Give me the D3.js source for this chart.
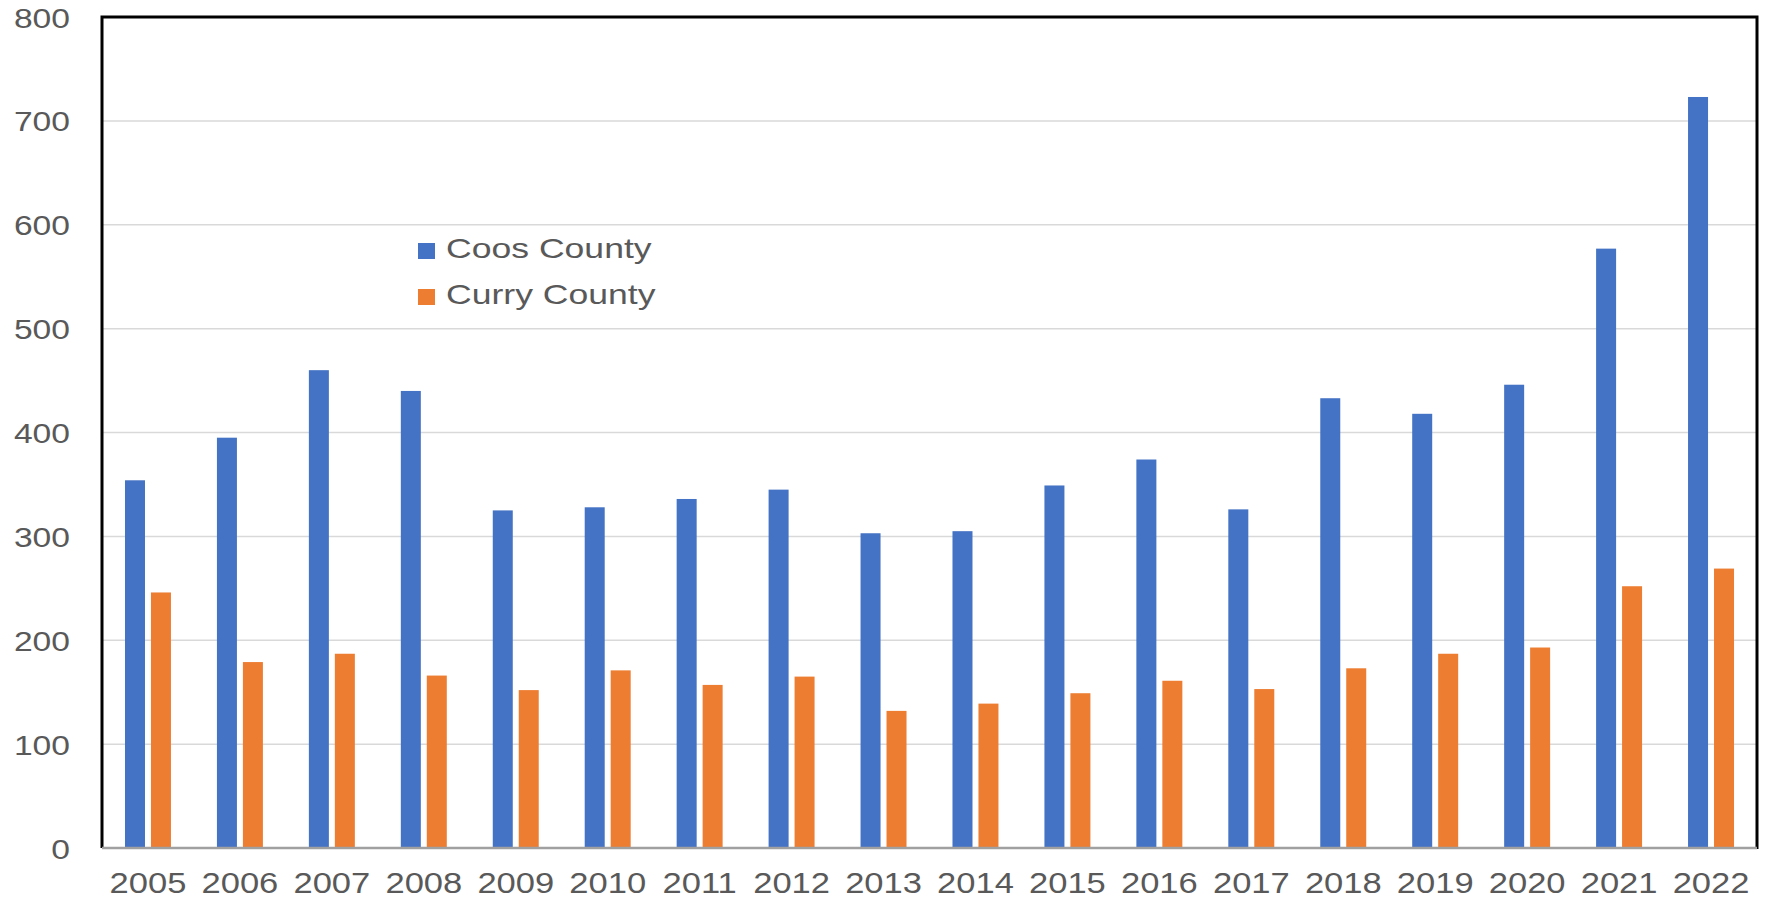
<!DOCTYPE html>
<html>
<head>
<meta charset="utf-8">
<title>Coos and Curry County</title>
<script src="https://cdn.jsdelivr.net/npm/d3@7"></script>
<style>
  html, body { margin: 0; padding: 0; background: #fff; }
  svg text { font-family: "Liberation Sans", Arial, sans-serif; fill: #595959; }
</style>
</head>
<body>
<div id="chart"></div>
<script>
// values
var years = ["2005","2006","2007","2008","2009","2010","2011","2012","2013",
             "2014","2015","2016","2017","2018","2019","2020","2021","2022"];
var coos  = [354, 395, 460, 440, 325, 328, 336, 345, 303, 305, 349, 374, 326, 433, 418, 446, 577, 723];
var curry = [246, 179, 187, 166, 152, 171, 157, 165, 132, 139, 149, 161, 153, 173, 187, 193, 252, 269];
var seriesNames = ["Coos County", "Curry County"];
var yTicks = [0, 100, 200, 300, 400, 500, 600, 700, 800];

(function drawChart(){
  var width = 1767, height = 899;
  var margin = {top: 17, right: 10, bottom: 51, left: 102};
  var colors = ["#4472C4", "#ED7D31"];

  var svg = d3.select("#chart").append("svg")
    .attr("width", width)
    .attr("height", height);

  var x = d3.scaleBand()
    .domain(years)
    .range([margin.left, width - margin.right])
    .paddingInner(0).paddingOuter(0);

  // two bars per year, small gap between them
  var xInner = d3.scaleBand()
    .domain([0, 1])
    .range([0, x.bandwidth()])
    .paddingInner(0.23).paddingOuter(0.885);

  var y = d3.scaleLinear()
    .domain([0, 800])
    .range([height - margin.bottom, margin.top]);

  // stretch text horizontally like the source image
  function stretch(sel, k){
    sel.each(function(){
      var w = this.getComputedTextLength();
      d3.select(this).attr("textLength", w * k).attr("lengthAdjust", "spacingAndGlyphs");
    });
  }

  // gridlines
  svg.append("g")
    .selectAll("line")
    .data(yTicks.slice(1))
    .join("line")
    .attr("x1", margin.left).attr("x2", width - margin.right)
    .attr("y1", d => y(d)).attr("y2", d => y(d))
    .attr("stroke", "#d9d9d9").attr("stroke-width", 1.5);

  // bars
  var data = years.map((yr, i) => ({year: yr, vals: [coos[i], curry[i]]}));
  var groups = svg.append("g").selectAll("g")
    .data(data)
    .join("g")
    .attr("transform", d => "translate(" + x(d.year) + ",0)");
  groups.selectAll("rect")
    .data(d => d.vals.map((v, k) => ({k: k, v: v})))
    .join("rect")
    .attr("x", d => xInner(d.k))
    .attr("width", xInner.bandwidth())
    .attr("y", d => y(d.v))
    .attr("height", d => y(0) - y(d.v))
    .attr("fill", d => colors[d.k]);

  // frame: black left/top/right, gray bottom axis
  var x0 = margin.left, x1 = width - margin.right, y0 = margin.top, y1 = y(0);
  svg.append("path")
    .attr("d", "M" + x0 + "," + y1 + "V" + y0 + "H" + x1 + "V" + (y1 + 1))
    .attr("fill", "none").attr("stroke", "#000").attr("stroke-width", 3);
  svg.append("line")
    .attr("x1", x0).attr("x2", x1).attr("y1", y1).attr("y2", y1)
    .attr("stroke", "#a0a0a0").attr("stroke-width", 2.5);

  // y axis labels
  var yAxis = svg.append("g")
    .attr("transform", "translate(" + (margin.left - 32) + ",0)")
    .call(d3.axisLeft(y).tickValues(yTicks).tickSize(0).tickPadding(0));
  yAxis.select(".domain").remove();
  yAxis.selectAll("text")
    .attr("font-size", 28).attr("font-family", null).attr("fill", "#595959")
    .attr("dy", "0.36em")
    .call(stretch, 1.2);

  // x axis labels
  var xAxis = svg.append("g")
    .attr("transform", "translate(0," + y1 + ")")
    .call(d3.axisBottom(x).tickSize(0).tickPadding(0));
  xAxis.select(".domain").remove();
  xAxis.selectAll("text")
    .attr("font-size", 29).attr("font-family", null).attr("fill", "#595959")
    .attr("y", 45).attr("dy", 0)
    .call(stretch, 1.19);

  // legend
  var legend = svg.append("g").attr("transform", "translate(418,243)");
  var items = legend.selectAll("g")
    .data(seriesNames)
    .join("g")
    .attr("transform", (d, i) => "translate(0," + (i * 46) + ")");
  items.append("rect")
    .attr("width", 17).attr("height", 16)
    .attr("fill", (d, i) => colors[i]);
  items.append("text")
    .attr("x", 28).attr("y", 15)
    .attr("font-size", 28)
    .text(d => d)
    .call(stretch, 1.27);
})();
</script>
</body>
</html>
